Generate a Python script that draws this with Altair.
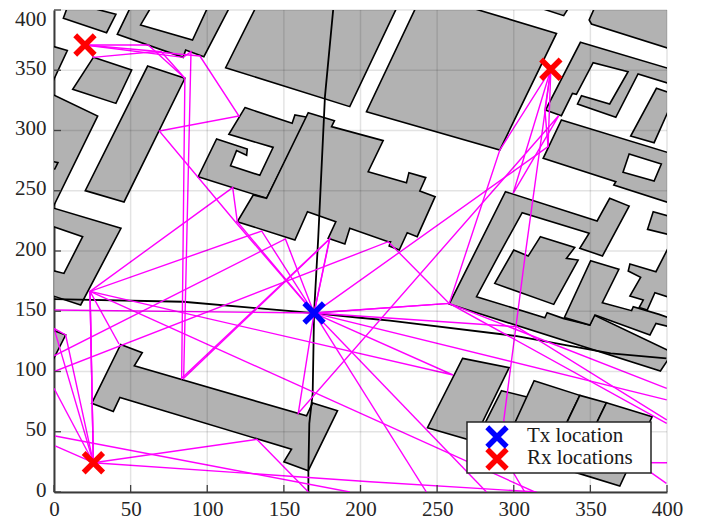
import altair as alt
import pandas as pd

X_TICKS = [0, 50, 100, 150, 200, 250, 300, 350, 400]
Y_TICKS = [0, 50, 100, 150, 200, 250, 300, 350, 400]

TX = (169.7, 148.5)
RX1 = (20.2, 371.0)
RX2 = (324.2, 350.8)
RX3 = (25.7, 24.3)
APEX = (23.5, 166.5)
B_A = [(9.6, 405.5), (6.1, 393.1), (34.3, 381.2), (40.4, 396.4), (28.3, 400.5), (15.2, 405.5)]
B_B = [(51.1, 405.5), (41.3, 379.8), (84.3, 360.7), (85.9, 366.8), (97.8, 361.3), (115.9, 405.5), (101.5, 405.5), (90.4, 375.1), (56.5, 387.6), (64.8, 405.5)]
B_C = [(25.7, 360.7), (50.7, 350.2), (40.4, 322.5), (12.2, 334.2)]
B_D = [(61.1, 353.5), (85.4, 343.3), (45.7, 240.7), (20.4, 250.1)]
B_E = [(-5, 371.5), (8.7, 366.3), (-5, 329)]
B_F = [(-5, 332.5), (28.5, 312), (-5, 225)]
B_F2 = [(-5, 275.5), (2.6, 273.3), (0.5, 268), (-5, 268)]
B_G = [(-5, 237.4), (43.7, 218.8), (17.4, 155.2), (-5, 164.5), (-5, 185.2), (6.5, 181.4), (18.7, 211.9), (-5, 222.2)]
B_H = [(124.6, 319.0), (155.4, 306.0), (157.2, 312.9), (165.4, 311.0), (138.7, 243.7), (94.1, 261.7), (106.1, 293.0), (126.1, 284.6), (125.7, 279.4), (119.1, 283.3), (115.2, 270.8), (134.3, 262.8), (143.0, 286.0), (114.1, 296.8)]
B_I = [(165.9, 314.8), (183.0, 308.2), (181.1, 303.2), (214.8, 291.6), (205.0, 265.8), (230.0, 256.7), (231.6, 265.0), (242.6, 260.9), (238.7, 249.8), (248.7, 245.1), (237.0, 211.9), (230.5, 215.2), (225.3, 200.8), (218.7, 204.1), (219.6, 207.7), (218.1, 207.7), (193.0, 218.8), (189.8, 205.8), (178.9, 210.5), (183.9, 224.3), (165.4, 232.6), (157.2, 209.1), (119.6, 224.3), (130.0, 246.5), (138.7, 243.7)]
B_J = [(133, 405.5), (112.0, 352.1), (193.0, 319.8), (225, 405.5)]
B_K = [(237.4, 405.5), (203.9, 315.6), (290.9, 283.8), (327.9, 380.6), (262.6, 405.5)]
B_L = [(308, 405.5), (332.6, 395.3), (337.6, 405.5)]
B_M = [(354, 405.5), (349.2, 391.7), (350.7, 388.4), (405, 366.5), (405, 405.5)]
B_N = [(343.5, 373.2), (405, 350), (405, 337.5), (381.1, 346.9), (366.6, 310.9), (341.6, 322.0), (344.2, 328.9), (362.6, 322.0), (374.6, 348.8), (351.8, 356.3), (340.9, 330.0), (338.3, 330.8), (331.1, 312.3), (320.7, 317.0)]
B_O = [(393.1, 335), (405, 330), (405, 328), (391.6, 289.9), (376.3, 295.4)]
B_P = [(331.1, 308.7), (405, 280), (405, 238.5), (365.3, 254.8), (366.6, 257.5), (319.2, 276.9)]
B_Q = [(294.6, 249.2), (354.4, 224.9), (362.6, 243.7), (375.3, 237.3), (357.9, 195.9), (343.1, 202.2), (349.2, 214.7), (305.5, 231.8), (292.0, 200.8), (275.7, 162.1), (320.3, 144.6), (321.8, 148.8), (332.2, 144.1), (349.6, 138.6), (352.4, 146.9), (405, 115), (401, 110.5), (395.7, 100.4), (257.9, 156.0)]
B_T = [(317.4, 211.9), (339.8, 203.0), (334.4, 193.9), (342.0, 192.5), (326.1, 155.7), (287.6, 173.1), (300.0, 200.8), (309.4, 195.8)]
B_S = [(350.2, 192.0), (368.6, 184.8), (357.8, 157.1), (376.9, 150.5), (378.0, 153.8), (394.9, 147.4), (405, 143), (405, 136), (392.8, 139.9), (388.9, 130.3), (353, 146.9), (349.7, 138.6), (333, 144.7)]
B_C2 = [(375.8, 189.2), (392.8, 182.8), (405, 213), (405, 160), (392.1, 165.4), (387.1, 151), (381.9, 153.2), (384.5, 159.3), (375.8, 162.6), (382.8, 178.1), (374.7, 183.4)]
B_C3 = [(391, 232.6), (405, 227.5), (405, 212.5), (387.3, 218)]
B_U = [(266.6, 110.9), (297.0, 103.2), (273.5, 42.3), (243.7, 53.4)]
B_V = [(292, 84.1), (309.4, 78.6), (295.3, 43.2), (277.9, 48.7)]
B_W = [(313.3, 92.4), (343.1, 80.2), (333.3, 54.2), (299.6, 54.2)]
B_X = [(343.1, 80.2), (360.5, 74.1), (351.8, 51.4), (334.4, 57.0)]
B_Y = [(360.5, 74.1), (390.3, 62.5), (369.2, 5.0), (338.7, 16.9), (351.8, 51.4)]
B_Z = [(43.5, 122.5), (57.6, 115.6), (52.4, 104.8), (164.8, 63.2), (168.7, 73.8), (185.0, 67.5), (165.9, 17.7), (150.0, 25.0), (155.0, 35.5), (43.0, 78.5), (38.7, 66.9), (24.6, 73.6)]
B_SMALL = [(-5, 136.3), (7.6, 130.3), (-5, 98.7)]
BUILDINGS = [B_A, B_B, B_C, B_D, B_E, B_F, B_F2, B_G, B_H, B_I, B_J, B_K, B_L, B_M, B_N, B_O, B_P, B_Q, B_T, B_S, B_C2, B_C3, B_U, B_V, B_W, B_X, B_Y, B_Z, B_SMALL]

COURTYARD = [(375.3, 280.5), (396.3, 272.2), (391.6, 258.1), (371.3, 265.3)]
STREET_1 = [(182.2, 400.6), (176.8, 328.1), (172.4, 210.5), TX, (168.8, 81.9), (166.6, 57), (166, 18.2), (166, 0)]
STREET_2 = [(0.2, 160.1), (84.3, 157.9), TX, (199.6, 144.6), (219.2, 142.2), (302, 129.4), (339.3, 120.6), (363.3, 115), (399.6, 110.9)]

RAYS = [
    [RX1, (61.5, 371), (85.4, 343.3), (83.3, 94.3), (179.7, 209.9), TX],
    [RX1, (84.3, 360.7), (89.4, 365.4), (84.6, 94.3), (179.9, 209.9), TX],
    [RX1, (25.7, 360.7), (64.8, 365.4), (95.2, 361.8), (120.7, 312), (68.7, 299.6), (119.1, 223), TX],
    [RX1, (70, 365.4), (85.4, 343.3)],
    [RX2, (290.9, 283.8), (257.9, 156.5), TX],
    [RX2, (299.6, 247.9), (329.4, 312.4), (159.4, 65.3), TX],
    [RX2, (322.4, 286.6), TX],
    [RX2, (320.3, 317.3), (322.4, 286.6)],
    [RX2, (307.9, 200.8), (293.5, 59.7), (300, 15.5), (307.2, 0)],
    [(0, 100), (218.1, 207.7), (257.9, 156.5), (399.8, 57)],
    [(0, 113), (151, 210), TX],
    [(0.3, 151), TX, (301.9, 137.2), (399.8, 59.8)],
    [TX, (257.9, 156.5), (399.8, 86)],
    [TX, (399.8, 76.5)],
    [TX, (282.2, 0)],
    [TX, (243, 0)],
    [TX, (260.4, 97.1), APEX, RX3],
    [APEX, (313.7, 0)],
    [RX3, APEX, (116.6, 252.6), (119.6, 224.3), TX],
    [RX3, APEX, (135.5, 216.6), TX],
    [APEX, (42.4, 122.8)],
    [(0, 135.8), (7.6, 130.3), RX3],
    [(0, 135.8), RX3],
    [(0, 86), RX3],
    [RX3, (132.3, 43.7), (166, 0)],
    [RX3, (206.2, 8.5), (315, 0)],
    [(0.7, 46.5), (193, 0)],
    [(0.7, 38.2), RX3],
    [(350, 24.5), (400, 24.3)],
    [(369.2, 34.3), (399.6, 7.2)],
]
TX_LABEL = "Tx location"
RX_LABEL = "Rx locations"


def table(paths):
    rows = []
    for pid, path in enumerate(paths):
        for i, (x, y) in enumerate(path):
            rows.append({"pid": pid, "i": i, "x": x, "y": y})
    return pd.DataFrame(rows)


SERIF = "Liberation Serif"
AXIS_COLOR = "#404040"
CROSS = "M-1,-1L1,1M-1,1L1,-1"
BLUE = "#0000ff"
RED = "#ff0000"
xs = alt.Scale(domain=[0, 400], nice=False, zero=False)
ys = alt.Scale(domain=[0, 400], nice=False, zero=False)
x_axis = alt.Axis(values=X_TICKS, title=None, grid=False, ticks=False, domainColor=AXIS_COLOR, domainWidth=2,
                  labelFont=SERIF, labelFontSize=21, labelColor="#262626", labelPadding=6, format="d", labelFlush=False)
y_axis = alt.Axis(values=Y_TICKS, title=None, grid=False, ticks=False, domainColor=AXIS_COLOR, domainWidth=2,
                  labelFont=SERIF, labelFontSize=21, labelColor="#262626", labelPadding=8, format="d", labelFlush=False,
                  labelOffset=alt.expr("datum.value == 400 ? 9 : -2"))

enc = dict(x=alt.X("x:Q", scale=xs, axis=x_axis), y=alt.Y("y:Q", scale=ys, axis=y_axis),
           detail="pid:N", order=alt.Order("i:Q"))

buildings = alt.Chart(table(BUILDINGS)).mark_line(
    interpolate="linear-closed", fill="#b2b2b2", stroke="black", strokeWidth=1.6, clip=True).encode(**enc)
courtyard = alt.Chart(table([COURTYARD])).mark_line(
    interpolate="linear-closed", fill="white", stroke="black", strokeWidth=1.6, clip=True).encode(**enc)
streets = alt.Chart(table([STREET_1, STREET_2])).mark_line(
    stroke="black", strokeWidth=1.8, clip=True).encode(**enc)
rays = alt.Chart(table(RAYS)).mark_line(stroke="#ff00ff", strokeWidth=1.4, clip=True).encode(**enc)

grid_x = alt.Chart(pd.DataFrame({"t": X_TICKS})).mark_rule(color="black", opacity=0.11, strokeWidth=1.5).encode(
    x=alt.X("t:Q", scale=xs, axis=x_axis))
grid_y = alt.Chart(pd.DataFrame({"t": Y_TICKS})).mark_rule(color="black", opacity=0.11, strokeWidth=1.5).encode(
    y=alt.Y("t:Q", scale=ys, axis=y_axis))
tick_x = alt.Chart(pd.DataFrame({"t": X_TICKS})).mark_rule(color=AXIS_COLOR, strokeWidth=1.3).encode(
    x=alt.X("t:Q", scale=xs, axis=x_axis), y=alt.value(482), y2=alt.value(475))
tick_y = alt.Chart(pd.DataFrame({"t": Y_TICKS})).mark_rule(color=AXIS_COLOR, strokeWidth=1.3).encode(
    y=alt.Y("t:Q", scale=ys, axis=y_axis), x=alt.value(0), x2=alt.value(7))


def cross_points(points, color):
    frame = pd.DataFrame({"x": [p[0] for p in points], "y": [p[1] for p in points]})
    return alt.Chart(frame).mark_point(
        shape=CROSS, filled=False, size=380, strokeWidth=5.5, opacity=1, strokeCap="butt", color=color).encode(
        x=alt.X("x:Q", scale=xs, axis=x_axis), y=alt.Y("y:Q", scale=ys, axis=y_axis))


LEGEND_ONE = pd.DataFrame({"label": [TX_LABEL]})
LEGEND_TWO = pd.DataFrame({"label": [RX_LABEL]})

legend_box = alt.Chart(LEGEND_ONE).mark_rect(fill="white", stroke="#262626", strokeWidth=1.5).encode(
    x=alt.value(413), x2=alt.value(597), y=alt.value(412), y2=alt.value(463))


def legend_symbol(frame, color, ypos):
    return alt.Chart(frame).mark_point(
        shape=CROSS, filled=False, size=380, strokeWidth=5.5, opacity=1, strokeCap="butt", color=color).encode(
        x=alt.value(443), y=alt.value(ypos))


def legend_text(frame, ypos):
    return alt.Chart(frame).mark_text(
        font=SERIF, fontSize=21, color="#1a1a1a", align="left", baseline="middle").encode(
        x=alt.value(473), y=alt.value(ypos), text="label:N")


chart = alt.layer(
    buildings, courtyard, streets, rays, grid_x, grid_y, tick_x, tick_y,
    cross_points([TX], BLUE), cross_points([RX1, RX2, RX3], RED),
    legend_box,
    legend_symbol(LEGEND_TWO, RED, 449), legend_symbol(LEGEND_ONE, BLUE, 427),
    legend_text(LEGEND_ONE, 426), legend_text(LEGEND_TWO, 448),
).properties(
    width=613, height=482,
    autosize=alt.AutoSizeParams(type="none", contains="content"),
    padding={"left": 46, "top": 2, "right": 27, "bottom": 30},
).configure_view(stroke=None)

chart.save("out.html", embed_options={"renderer": "svg", "actions": False})
